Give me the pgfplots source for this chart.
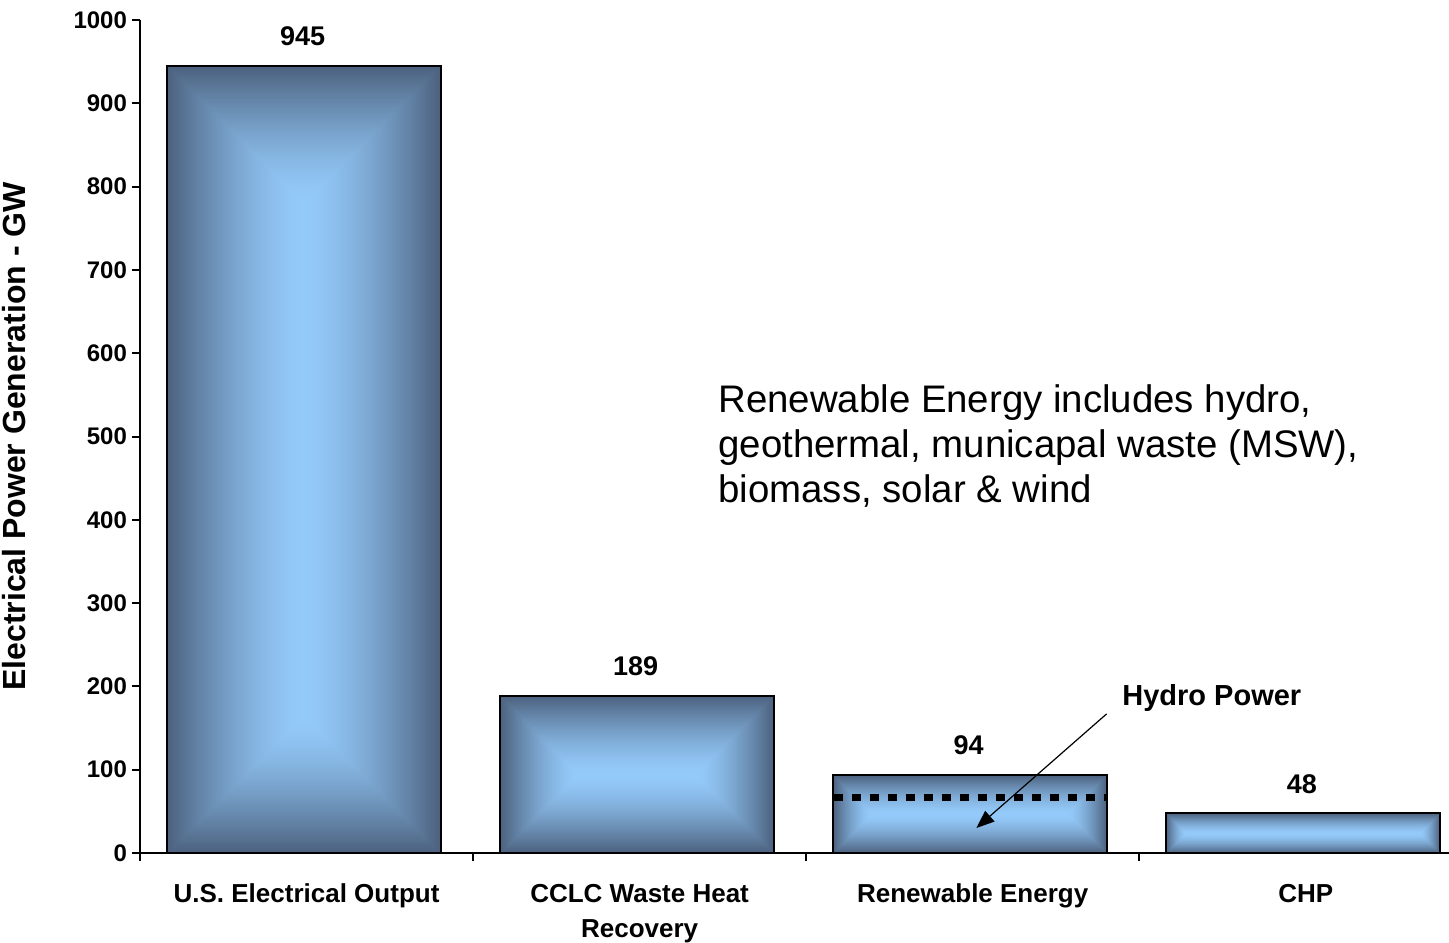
\documentclass[border=0pt]{standalone}
\usepackage{pgfplots}
\pgfplotsset{compat=1.18}
\usepackage{fontspec}
\setmainfont{Liberation Sans}
\usetikzlibrary{arrows.meta}

% rectangular "from centre" gradients, one per bar aspect ratio
\pgfdeclarefunctionalshading{barA}{\pgfpoint{-50bp}{-50bp}}{\pgfpoint{50bp}{50bp}}{}{
 abs 0.1148 mul -1.87 add exch abs 0.04 mul 0 add 2 copy lt {exch} if pop
 dup 1 gt {pop 1} if dup 0 lt {pop 0} if dup sqrt mul
 dup -0.286 mul 0.58 add exch dup -0.416 mul 0.792 add exch -0.49 mul 0.98 add
}
\pgfdeclarefunctionalshading{barB}{\pgfpoint{-50bp}{-50bp}}{\pgfpoint{50bp}{50bp}}{}{
 abs 0.04 mul 0 add exch abs 0.0698 mul -0.745 add 2 copy lt {exch} if pop
 dup 1 gt {pop 1} if dup 0 lt {pop 0} if dup sqrt mul
 dup -0.286 mul 0.58 add exch dup -0.416 mul 0.792 add exch -0.49 mul 0.98 add
}
\pgfdeclarefunctionalshading{barC}{\pgfpoint{-50bp}{-50bp}}{\pgfpoint{50bp}{50bp}}{}{
 abs 0.04 mul 0 add exch abs 0.1404 mul -2.51 add 2 copy lt {exch} if pop
 dup 1 gt {pop 1} if dup 0 lt {pop 0} if dup sqrt mul
 dup -0.286 mul 0.58 add exch dup -0.416 mul 0.792 add exch -0.49 mul 0.98 add
}
\pgfdeclarefunctionalshading{barD}{\pgfpoint{-50bp}{-50bp}}{\pgfpoint{50bp}{50bp}}{}{
 abs 0.04 mul 0 add exch abs 0.274 mul -5.85 add 2 copy lt {exch} if pop
 dup 1 gt {pop 1} if dup 0 lt {pop 0} if dup sqrt mul
 dup -0.286 mul 0.58 add exch dup -0.416 mul 0.792 add exch -0.49 mul 0.98 add
}

\pgfplotsset{
  mybar/.style={ybar, bar shift=-1.5pt, bar width=137pt, draw=black, line width=1pt,
    nodes near coords,
    every node near coord/.append style={font=\bfseries\fontsize{13.5}{16}\selectfont, black, yshift=6pt, xshift=-2pt}},
}

\begin{document}
\begin{tikzpicture}
\path[use as bounding box] (-70pt,-44.5pt) rectangle (654.5pt,426.5pt);
\begin{axis}[
  at={(0,0)}, anchor=south west,
  scale only axis, width=654.5pt, height=416.5pt,
  xmin=-0.5, xmax=3.43, ymin=0, ymax=1000,
  axis lines*=left,
  axis line style={line width=1pt, black},
  tick style={line width=1pt, black},
  tick align=outside,
  major tick length=4pt,
  xtick={-0.5,0.5,1.5,2.5}, xticklabels={},
  extra x ticks={0,1,2,3},
  extra x tick labels={U.S. Electrical Output, {CCLC Waste Heat\\Recovery}, Renewable Energy, CHP},
  extra x tick style={major tick length=0pt,
     tick label style={font=\bfseries\fontsize{13}{17.5}\selectfont, align=center, yshift=-12pt}},
  ytick={0,100,...,1000},
  /pgf/number format/1000 sep={},
  /pgf/number format/assume math mode=true,
  yticklabel style={font=\bfseries\fontsize{12}{14}\selectfont, xshift=1pt},
  ylabel={Electrical Power Generation - GW},
  every axis y label/.style={at={(axis description cs:-0.0963,0.5)}, rotate=90, anchor=center,
     font=\bfseries\fontsize{16}{18}\selectfont},
  clip=false,
]
\addplot[mybar, shading=barA] coordinates {(0,945)};
\addplot[mybar, shading=barB] coordinates {(1,189)};
\addplot[mybar, shading=barC] coordinates {(2,94)};
\addplot[mybar, shading=barD] coordinates {(3,48)};
% hydro power level
\addplot[black, line width=3.5pt, dash pattern=on 4.5pt off 4.5pt, no markers] coordinates {(1.585,67) (2.405,67)};
\draw[black, line width=0.6pt, -{Triangle[length=9pt,width=7pt]}] (axis cs:2.402,167) -- (axis cs:2.011,30);
\node[font=\bfseries\fontsize{14.5}{16}\selectfont, anchor=center] at (axis cs:2.718,186) {Hydro Power};
\node[font=\fontsize{19.2}{22.5}\selectfont, anchor=north west, align=left, inner sep=0pt] at (axis cs:1.235,563)
 {Renewable Energy includes hydro,\\geothermal, municapal waste (MSW),\\biomass, solar \& wind};
\end{axis}
\end{tikzpicture}
\end{document}
